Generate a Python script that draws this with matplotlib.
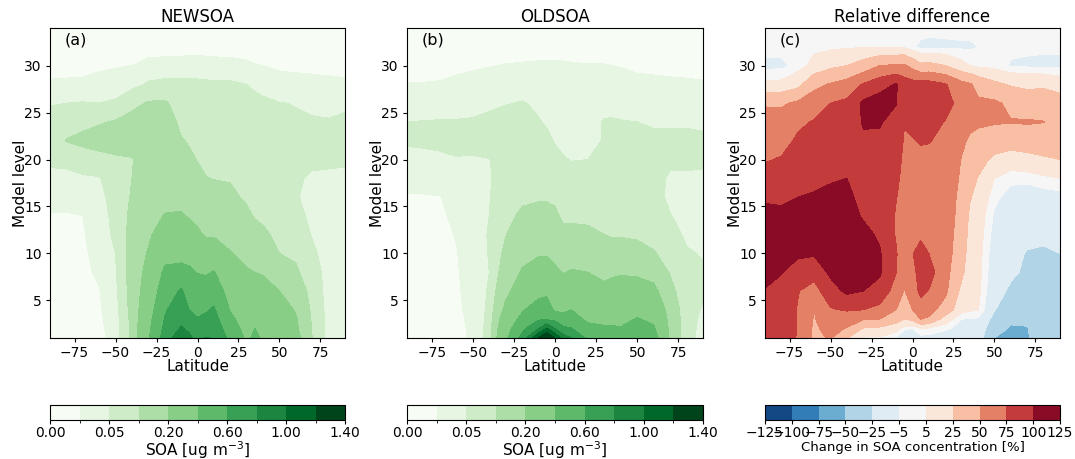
import numpy as np
import matplotlib
matplotlib.use("Agg")
import matplotlib.pyplot as plt
from matplotlib.colors import BoundaryNorm

lat = [-90, -80, -70, -60, -50, -40, -30, -20, -10, -5, 0, 5, 10, 20, 30, 35, 40, 50, 60, 70, 80, 90]
lev = [1, 2, 3, 4, 6, 8, 10, 12, 14, 16, 18, 20, 22, 24, 26, 28, 30, 32, 34]

# one row per latitude, bottom to top
newsoa = [
    [.012, .012, .012, .013, .014, .015, .015, .016, .018, .028, .042, .056, .065, .062, .048, .023, .012, .006, .003],
    [.012, .012, .012, .013, .014, .015, .015, .016, .018, .028, .042, .058, .102, .08, .05, .024, .012, .006, .003],
    [.012, .013, .013, .014, .015, .016, .017, .018, .02, .03, .045, .07, .115, .085, .052, .025, .012, .006, .003],
    [.014, .015, .016, .017, .019, .023, .026, .03, .033, .038, .047, .08, .125, .095, .05, .028, .016, .008, .004],
    [.028, .03, .032, .034, .04, .046, .05, .058, .062, .068, .075, .09, .13, .105, .055, .032, .018, .009, .004],
    [.11, .11, .115, .12, .125, .125, .125, .12, .115, .105, .1, .095, .14, .12, .085, .038, .02, .01, .005],
    [.38, .36, .34, .31, .27, .24, .21, .18, .16, .15, .15, .15, .15, .15, .105, .055, .026, .012, .006],
    [.68, .64, .61, .58, .5, .43, .35, .27, .205, .17, .16, .16, .15, .14, .108, .06, .027, .012, .006],
    [.95, .82, .75, .7, .62, .46, .34, .27, .21, .17, .15, .13, .105, .085, .075, .06, .028, .012, .006],
    [.85, .76, .68, .6, .53, .43, .34, .26, .19, .16, .135, .11, .095, .085, .075, .06, .029, .012, .006],
    [.72, .66, .61, .56, .47, .395, .3, .22, .17, .14, .115, .098, .09, .08, .07, .058, .03, .012, .006],
    [.81, .7, .64, .58, .49, .38, .27, .19, .15, .125, .102, .09, .085, .08, .07, .057, .028, .012, .006],
    [.79, .72, .67, .62, .52, .41, .27, .19, .15, .125, .098, .09, .085, .08, .07, .056, .027, .012, .006],
    [.55, .49, .44, .39, .32, .26, .205, .17, .14, .115, .095, .09, .08, .075, .07, .056, .026, .012, .006],
    [.37, .34, .31, .29, .25, .21, .17, .14, .115, .09, .08, .075, .07, .066, .06, .05, .024, .011, .005],
    [.43, .4, .34, .3, .25, .2, .16, .125, .095, .082, .075, .07, .066, .063, .058, .045, .021, .01, .005],
    [.38, .35, .33, .29, .25, .19, .155, .115, .085, .075, .07, .065, .062, .06, .056, .04, .02, .01, .005],
    [.33, .31, .29, .26, .2, .14, .1, .08, .07, .062, .057, .055, .055, .053, .051, .03, .016, .008, .004],
    [.24, .22, .21, .19, .15, .11, .09, .07, .06, .052, .052, .054, .054, .053, .049, .028, .015, .008, .004],
    [.1, .095, .09, .085, .075, .065, .056, .048, .043, .043, .048, .053, .053, .052, .046, .026, .015, .007, .004],
    [.035, .035, .036, .036, .036, .038, .037, .036, .036, .038, .048, .052, .052, .051, .046, .025, .014, .007, .004],
    [.034, .034, .035, .035, .035, .036, .036, .035, .035, .037, .047, .052, .052, .053, .047, .024, .013, .007, .004],
]

oldsoa = [
    [.01, .01, .01, .011, .012, .013, .013, .014, .015, .018, .03, .043, .053, .05, .035, .021, .012, .006, .003],
    [.01, .01, .01, .011, .012, .013, .013, .014, .015, .018, .03, .044, .054, .051, .036, .021, .012, .006, .003],
    [.011, .011, .012, .012, .013, .014, .014, .015, .016, .019, .032, .046, .055, .052, .036, .022, .012, .006, .003],
    [.013, .014, .015, .016, .017, .018, .019, .021, .025, .03, .037, .048, .06, .052, .038, .025, .015, .008, .004],
    [.024, .024, .025, .026, .028, .029, .03, .032, .034, .036, .04, .047, .06, .053, .04, .028, .017, .008, .004],
    [.065, .063, .06, .058, .054, .05, .052, .053, .05, .048, .046, .049, .07, .06, .042, .03, .019, .009, .005],
    [.36, .32, .28, .23, .17, .135, .115, .098, .085, .075, .07, .068, .067, .066, .048, .033, .021, .01, .005],
    [.66, .55, .45, .38, .27, .21, .17, .135, .11, .09, .08, .075, .07, .068, .052, .036, .022, .011, .005],
    [1.22, .8, .58, .5, .33, .25, .19, .15, .115, .095, .08, .07, .062, .052, .045, .035, .023, .011, .005],
    [1.45, 1.02, .58, .52, .35, .25, .19, .15, .115, .095, .08, .068, .056, .047, .042, .034, .023, .011, .005],
    [1.2, .8, .55, .37, .31, .22, .17, .14, .11, .09, .07, .058, .048, .042, .038, .032, .023, .011, .005],
    [.9, .65, .46, .37, .28, .195, .15, .115, .09, .075, .06, .052, .044, .04, .036, .031, .023, .011, .005],
    [.8, .61, .47, .4, .28, .21, .15, .115, .09, .075, .06, .049, .043, .04, .036, .031, .022, .011, .005],
    [.56, .45, .37, .33, .26, .2, .14, .11, .09, .075, .06, .05, .042, .04, .036, .03, .021, .01, .005],
    [.5, .42, .36, .31, .23, .17, .13, .1, .085, .075, .06, .053, .052, .052, .042, .03, .021, .01, .005],
    [.47, .42, .36, .32, .25, .18, .125, .095, .083, .072, .065, .06, .056, .052, .043, .03, .02, .01, .005],
    [.47, .41, .36, .32, .25, .19, .13, .095, .08, .07, .063, .058, .055, .051, .042, .029, .019, .01, .005],
    [.55, .47, .41, .35, .26, .18, .125, .09, .075, .067, .06, .055, .052, .05, .04, .026, .016, .008, .004],
    [.48, .42, .37, .32, .23, .16, .105, .08, .068, .06, .055, .053, .052, .049, .038, .025, .015, .008, .004],
    [.18, .17, .16, .15, .12, .095, .075, .062, .051, .045, .048, .053, .052, .049, .037, .024, .014, .007, .004],
    [.058, .06, .062, .064, .062, .06, .053, .045, .042, .042, .048, .053, .052, .049, .037, .023, .014, .007, .004],
    [.042, .043, .044, .047, .054, .053, .048, .043, .04, .041, .047, .053, .052, .048, .036, .022, .013, .007, .004],
]

reldiff = [
    [85, 85, 87, 90, 99, 106, 110, 112, 108, 96, 85, 73, 65, 62, 47, 8, -8, -1, 1],
    [83, 84, 85, 87, 93, 101, 108, 110, 106, 95, 86, 77, 66, 59, 47, 9, -8, -1, 1],
    [74, 74, 74, 74, 76, 90, 104, 110, 107, 100, 90, 84, 79, 70, 54, 18, -1, 2, 1],
    [45, 46, 48, 50, 66, 84, 103, 110, 108, 102, 95, 90, 84, 77, 62, 44, 10, 2, 1],
    [52, 58, 68, 73, 90, 105, 112, 113, 110, 105, 98, 92, 86, 80, 75, 52, 20, 2, 1],
    [26, 48, 62, 77, 105, 111, 112, 110, 108, 106, 100, 94, 90, 85, 80, 60, 25, 3, 1],
    [2, 23, 52, 75, 100, 106, 108, 106, 98, 92, 92, 94, 97, 102, 105, 77, 35, 4, 1],
    [3, 20, 50, 68, 92, 103, 102, 97, 93, 90, 90, 92, 96, 102, 112, 90, 50, 3, 1],
    [-6, 12, 35, 50, 64, 76, 77, 73, 73, 76, 80, 84, 88, 92, 101, 102, 53, 3, 1],
    [-28, -1, 25, 35, 49, 58, 60, 62, 64, 66, 68, 70, 73, 76, 83, 88, 54, 3, 1],
    [-22, -5, 30, 50, 60, 63, 74, 68, 67, 68, 70, 72, 74, 80, 85, 85, 42, -3, 0],
    [-9, 4, 50, 62, 82, 92, 84, 71, 68, 68, 70, 72, 76, 86, 92, 85, 30, -8, 0],
    [-9, 2, 47, 58, 74, 85, 75, 65, 63, 63, 66, 70, 76, 84, 90, 85, 32, -9, -1],
    [-12, -3, 14, 40, 55, 58, 60, 60, 60, 60, 63, 66, 70, 74, 88, 77, 25, -8, -1],
    [-12, -9, -5, 10, 19, 30, 36, 40, 43, 45, 47, 49, 54, 60, 62, 58, 10, -7, -1],
    [-13, -10, -6, 7, 10, 13, 15, 18, 21, 27, 33, 40, 47, 55, 58, 53, 5, -7, -1],
    [-14, -11, -7, 6, 9, 10, 11, 12, 14, 18, 24, 34, 44, 53, 54, 42, 2, -5, -1],
    [-50, -42, -32, -24, -18, -15, -13, -10, -7, -2, 5, 20, 38, 52, 54, 30, 0, -2, -1],
    [-55, -52, -47, -38, -28, -22, -20, -17, -14, -10, -2, 15, 35, 51, 45, 23, -6, -3, -1],
    [-52, -51, -47, -36, -30, -28, -26, -21, -17, -12, -2, 18, 37, 52, 38, 20, -7, -3, -1],
    [-38, -36, -35, -34, -33, -30, -27, -22, -17, -11, 2, 22, 38, 50.5, 40, 21, -8, -3, -1],
    [-34, -34, -33, -33, -32, -30, -25, -20, -15, -10, 5, 25, 35, 42, 36, 15, -8, -3, -1],
]

soa_levels = [0, .02, .05, .1, .2, .4, .6, .8, 1.0, 1.2, 1.4]
soa_ticks = [0, .05, .2, .6, 1.0, 1.4]
diff_levels = [-125, -100, -75, -50, -25, -5, 5, 25, 50, 75, 100, 125]

W, H = 1075.0, 459.0


def box(x0, x1, ytop, ybot):
    return [x0 / W, 1 - ybot / H, (x1 - x0) / W, (ybot - ytop) / H]


fig = plt.figure(figsize=(10.75, 4.59), dpi=100)

panels = [
    (newsoa, "NEWSOA", "(a)", 50, 345),
    (oldsoa, "OLDSOA", "(b)", 407, 703),
    (reldiff, "Relative difference", "(c)", 765, 1060),
]

for data, title, tag, x0, x1 in panels:
    ax = fig.add_axes(box(x0, x1, 28, 338))
    z = np.array(data).T
    if tag == "(c)":
        cf = ax.contourf(lat, lev, z, levels=diff_levels, cmap="RdBu_r")
    else:
        norm = BoundaryNorm(soa_levels, 256)
        cf = ax.contourf(lat, lev, z, levels=soa_levels, cmap="Greens", norm=norm)
    ax.set_xlim(-90, 90)
    ax.set_ylim(1, 34)
    ax.set_xticks([-75, -50, -25, 0, 25, 50, 75])
    ax.set_yticks([5, 10, 15, 20, 25, 30])
    ax.tick_params(labelsize=10, length=3, pad=3)
    ax.set_title(title, fontsize=12, pad=4)
    ax.set_xlabel("Latitude", fontsize=11, labelpad=-1)
    ax.set_ylabel("Model level", fontsize=11, labelpad=-3)
    ax.text(0.05, 0.985, tag, transform=ax.transAxes, fontsize=11.5, va="top")

    cax = fig.add_axes(box(x0, x1, 405, 420))
    if tag == "(c)":
        cb = fig.colorbar(cf, cax=cax, orientation="horizontal", ticks=diff_levels)
        cb.ax.set_xticklabels([str(v).replace("-", "\u2212") for v in diff_levels])
        cb.set_label("Change in SOA concentration [%]", fontsize=9.5, labelpad=1)
    else:
        cb = fig.colorbar(cf, cax=cax, orientation="horizontal", ticks=soa_ticks, format="%.2f")
        cb.set_label("SOA [ug m$^{-3}$]", fontsize=11, labelpad=0)
    cb.ax.tick_params(labelsize=10, length=3, pad=1)

plt.savefig("out.png", dpi=100)
